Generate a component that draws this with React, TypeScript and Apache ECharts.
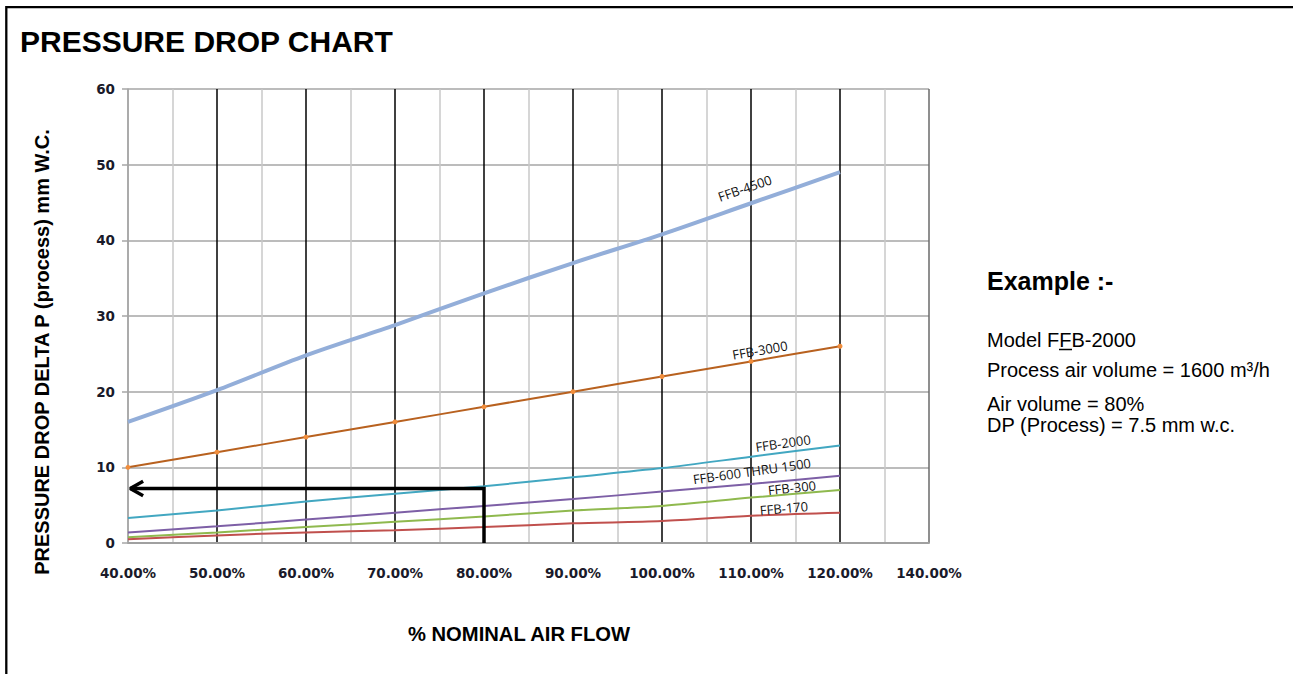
import React, { useEffect, useRef } from "react";
import * as echarts from "echarts";

// % nominal air flow at which each curve is sampled
const FLOW = [40, 50, 60, 70, 80, 90, 100, 110, 120];

// pressure drop (mm W.C.) per model
const FFB_4500 = [16, 20.2, 24.8, 28.8, 33, 37, 40.8, 44.9, 49];
const FFB_3000 = [10, 12, 14, 16, 18, 20, 22, 24, 26];
const FFB_2000 = [3.3, 4.3, 5.5, 6.5, 7.5, 8.7, 9.9, 11.4, 12.9];
const FFB_600_1500 = [1.4, 2.2, 3.1, 4.0, 4.9, 5.8, 6.8, 7.8, 8.9];
const FFB_300 = [0.75, 1.4, 2.1, 2.8, 3.5, 4.3, 4.9, 6.0, 7.0];
const FFB_170 = [0.5, 1.0, 1.4, 1.7, 2.1, 2.6, 2.9, 3.6, 4.0];

// x-axis tick labels (axis runs 40 → 130, last tick is labelled 140.00%)
const X_TICK_VALUES = [40, 50, 60, 70, 80, 90, 100, 110, 120, 130];
const X_TICK_LABELS = [
  "40.00%", "50.00%", "60.00%", "70.00%", "80.00%",
  "90.00%", "100.00%", "110.00%", "120.00%", "140.00%",
];

// example reading
const EXAMPLE_FLOW = 80;
const EXAMPLE_DP = 7.2;

// curve name labels (anchor in data coordinates, rotation in degrees)
const LINE_LABELS = [
  { name: "FFB-4500", x: 109.3, y: 46.9, rot: 19 },
  { name: "FFB-3000", x: 111.0, y: 25.5, rot: 10 },
  { name: "FFB-2000", x: 113.6, y: 13.2, rot: 8 },
  { name: "FFB-600 THRU 1500", x: 110.1, y: 9.5, rot: 8 },
  { name: "FFB-300", x: 114.6, y: 7.3, rot: 6 },
  { name: "FFB-170", x: 113.7, y: 4.6, rot: 5 },
];

const EXAMPLE_LINES = [
  "Model FFB-2000",
  "Process air volume = 1600 m³/h",
  "Air volume = 80%",
  "DP (Process) = 7.5 mm w.c.",
];

export default function App() {
  const ref = useRef<HTMLDivElement>(null);

  useEffect(() => {
    const chart = echarts.init(ref.current!, null, { renderer: "svg" });

    const mk = (name: string, vals: number[], color: string, width: number, extra: any = {}) => ({
      type: "line",
      name,
      data: FLOW.map((x, i) => [x, vals[i]]),
      smooth: 0.3,
      showSymbol: false,
      symbol: "none",
      lineStyle: { color, width },
      itemStyle: { color },
      z: 3,
      silent: true,
      ...extra,
    });

    const xSplitColors = X_TICK_VALUES.map((v, i) =>
      i === 0 ? "#a6a6a6" : i === X_TICK_VALUES.length - 1 ? "#6a6a6a" : "#000000"
    );

    const tickFont = {
      color: "#1a1a2a",
      fontFamily: "DejaVu Sans",
      fontWeight: "bold",
      fontSize: 13.5,
    };

    const option: any = {
      animation: false,
      backgroundColor: "#ffffff",
      grid: { left: 128, top: 89, width: 801, height: 454, containLabel: false },
      xAxis: {
        type: "value",
        min: 40,
        max: 130,
        interval: 10,
        axisLine: { show: true, lineStyle: { color: "#a0a0a0", width: 2 } },
        axisTick: { show: false },
        minorTick: { show: false, splitNumber: 2 },
        minorSplitLine: { show: true, lineStyle: { color: "#c8c8c8", width: 1.5 } },
        splitLine: { show: true, lineStyle: { color: xSplitColors, width: 1.5 } },
        axisLabel: {
          margin: 23,
          ...tickFont,
          formatter: (v: number) => {
            const i = X_TICK_VALUES.indexOf(Math.round(v));
            return i >= 0 ? X_TICK_LABELS[i] : "";
          },
        },
      },
      yAxis: {
        type: "value",
        min: 0,
        max: 60,
        interval: 10,
        axisLine: { show: true, lineStyle: { color: "#a6a6a6", width: 1.5 } },
        axisTick: { show: true, inside: false, length: 6, lineStyle: { color: "#a6a6a6", width: 1.5 } },
        splitLine: { show: true, lineStyle: { color: "#a6a6a6", width: 1.5 } },
        axisLabel: { margin: 13, ...tickFont },
      },
      series: [
        mk("FFB-4500", FFB_4500, "#93aed9", 4),
        mk("FFB-3000", FFB_3000, "#b8611f", 2, {
          showSymbol: true,
          symbol: "circle",
          symbolSize: 5,
          itemStyle: { color: "#f08d3c" },
        }),
        mk("FFB-2000", FFB_2000, "#42a7c1", 2),
        mk("FFB-600 THRU 1500", FFB_600_1500, "#7d5fa6", 2),
        mk("FFB-300", FFB_300, "#8fb94e", 2),
        mk("FFB-170", FFB_170, "#c0504d", 2),
        {
          type: "line",
          name: "example",
          data: [
            [EXAMPLE_FLOW, 0],
            [EXAMPLE_FLOW, EXAMPLE_DP],
            [40.25, EXAMPLE_DP],
          ],
          showSymbol: false,
          symbol: "none",
          lineStyle: { color: "#000", width: 3.5, join: "miter" },
          z: 4,
          silent: true,
        },
        {
          type: "line",
          name: "arrowhead",
          data: [
            [41.7, EXAMPLE_DP + 0.95],
            [40.25, EXAMPLE_DP],
            [41.7, EXAMPLE_DP - 0.95],
          ],
          showSymbol: false,
          symbol: "none",
          lineStyle: { color: "#000", width: 3.5 },
          z: 4,
          silent: true,
        },
        {
          type: "scatter",
          name: "labels",
          symbol: "circle",
          symbolSize: 2,
          itemStyle: { color: "rgba(255,255,255,0)" },
          silent: true,
          z: 5,
          data: LINE_LABELS.map((l) => ({
            name: l.name,
            value: [l.x, l.y],
            label: { rotate: l.rot },
          })),
          label: {
            show: true,
            position: "inside",
            formatter: (p: any) => p.name,
            color: "#111111",
            opacity: 1,
            fontFamily: "Open Sans",
            fontSize: 13,
          },
        },
      ],
      graphic: [
        {
          type: "polyline",
          shape: { points: [[6.3, 700], [6.3, 7.1], [1320, 7.1]] },
          style: { fill: "none", stroke: "#000", lineWidth: 2.3 },
          silent: true,
        },
        {
          type: "text",
          x: 20,
          y: 41.5,
          style: {
            text: "PRESSURE DROP CHART",
            fill: "#000",
            font: "bold 30px 'Liberation Sans', Arial, sans-serif",
            textAlign: "left",
            textVerticalAlign: "middle",
          },
        },
        {
          type: "text",
          x: 42,
          y: 352,
          rotation: Math.PI / 2,
          style: {
            text: "PRESSURE DROP DELTA P (process) mm W.C.",
            fill: "#000",
            font: "bold 20px 'Liberation Sans', Arial, sans-serif",
            textAlign: "center",
            textVerticalAlign: "middle",
          },
        },
        {
          type: "text",
          x: 519,
          y: 634,
          style: {
            text: "% NOMINAL AIR FLOW",
            fill: "#000",
            font: "bold 20.2px 'Liberation Sans', Arial, sans-serif",
            textAlign: "center",
            textVerticalAlign: "middle",
          },
        },
        {
          type: "text",
          x: 987,
          y: 281,
          style: {
            text: "Example :-",
            fill: "#000",
            font: "bold 25px 'Liberation Sans', Arial, sans-serif",
            textAlign: "left",
            textVerticalAlign: "middle",
          },
        },
        ...EXAMPLE_LINES.map((t, i) => ({
          type: "text",
          x: 987,
          y: [340, 370, 404, 425][i],
          style: {
            text: t,
            fill: "#000",
            font: "20px 'Liberation Sans', Arial, sans-serif",
            textAlign: "left",
            textVerticalAlign: "middle",
          },
        })),
        {
          type: "line",
          shape: { x1: 1059, y1: 349.5, x2: 1072, y2: 349.5 },
          style: { stroke: "#000", lineWidth: 1.5 },
          silent: true,
        },
      ],
    };

    chart.setOption(option);
    return () => chart.dispose();
  }, []);

  return (
    <div
      ref={ref}
      style={{ position: "absolute", left: 0, top: 0, width: 1293, height: 674, background: "#fff" }}
    />
  );
}
